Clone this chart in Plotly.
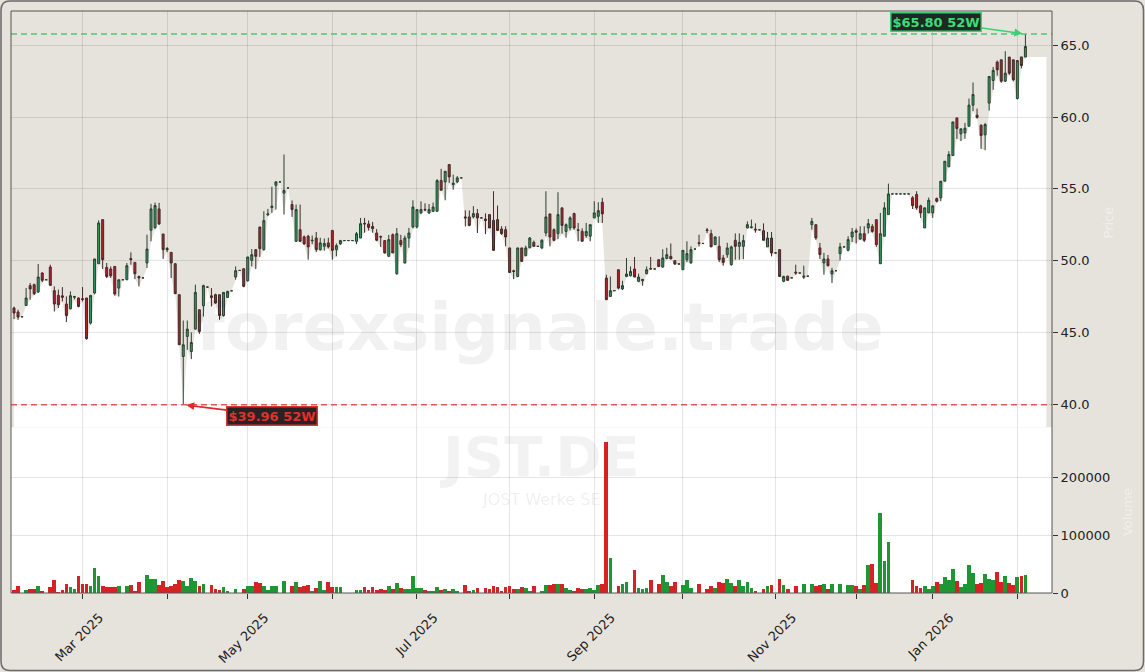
import pandas as pd
import plotly.graph_objects as go
from plotly.subplots import make_subplots

TICKER = "JST.DE"
COMPANY = "JOST Werke SE"
WATERMARK = "forexsignale.trade"
PRICE_LABEL = "Price"
VOLUME_LABEL = "Volume"
START = "2025-02-06"
END = "2026-02-04"
HOLIDAYS = ["2025-04-18", "2025-04-21", "2025-05-01", "2025-12-24", "2025-12-25",
            "2025-12-26", "2025-12-31", "2026-01-01"]

OPEN = [
    46.70, 46.42, 46.09, 46.88, 48.26, 48.33, 47.82, 49.14, 48.67, 49.56,
    47.91, 47.58, 47.55, 46.98, 46.65, 47.45, 47.40, 47.35, 47.40, 45.65,
    47.75, 49.79, 52.86, 49.53, 49.42, 49.60, 48.09, 48.67, 48.67, 50.15,
    49.88, 48.90, 48.80, 49.84, 52.12, 52.30, 53.61, 51.86, 50.85, 50.58,
    49.79, 47.63, 43.32, 44.72, 43.67, 45.23, 46.58, 46.86, 48.16, 47.55,
    47.63, 47.63, 46.18, 47.44, 47.90, 48.86, 49.32, 49.44, 48.60, 50.02,
    50.77, 52.35, 50.77, 53.20, 53.70, 55.25, 55.49, 54.70, 55.07, 53.91,
    51.35, 52.16, 51.66, 51.70, 51.38, 51.58, 50.77, 51.00, 51.24, 52.11,
    50.77, 51.17, 51.40, 51.40, 51.40, 51.35, 51.58, 52.60, 52.56, 52.39,
    51.93, 51.68, 51.40, 50.30, 51.81, 49.09, 51.40, 49.84, 51.58, 52.35,
    52.35, 53.33, 53.58, 53.33, 53.44, 53.44, 55.58, 55.49, 56.70, 55.30,
    55.49, 55.77, 53.05, 53.05, 53.05, 53.28, 52.98, 52.90, 53.21, 52.81,
    52.86, 52.21, 52.16, 50.89, 49.30, 48.90, 50.89, 50.35, 50.89, 51.28,
    51.00, 50.89, 51.93, 53.26, 52.16, 51.88, 53.68, 52.04, 52.28, 53.28,
    52.15, 52.04, 51.74, 51.70, 52.98, 53.09, 54.07, 48.79, 47.51, 47.91,
    49.37, 48.03, 48.90, 48.95, 49.42, 48.56, 48.60, 49.09, 49.45, 49.42,
    50.07, 49.56, 50.16, 50.30, 50.00, 49.77, 49.37, 50.07, 49.84, 50.81,
    51.25, 51.20, 52.15, 51.88, 51.12, 51.00, 50.19, 50.42, 49.72, 51.42,
    51.00, 51.00, 52.28, 52.30, 52.20, 52.15, 52.09, 50.96, 51.58, 50.54,
    50.77, 48.56, 48.92, 48.80, 49.20, 49.14, 48.85, 48.92, 52.51, 52.51,
    50.89, 49.84, 50.12, 49.07, 49.30, 50.49, 50.96, 50.72, 51.65, 52.09,
    51.51, 51.88, 52.28, 52.39, 52.86, 49.79, 51.70, 53.21, 54.65, 54.65,
    54.65, 54.65, 54.65, 54.38, 54.61, 53.82, 52.28, 53.33, 53.33, 54.33,
    54.38, 55.54, 56.54, 57.33, 59.95, 58.84, 58.91, 59.37, 60.84, 60.14,
    59.44, 58.77, 60.98, 62.56, 63.84, 64.00, 62.51, 64.19, 64.00, 61.30,
    64.20, 64.19,
]
HIGH = [
    46.80, 46.58, 46.09, 48.10, 48.44, 48.40, 49.77, 49.20, 48.67, 49.72,
    48.21, 47.98, 48.16, 47.51, 47.86, 47.55, 47.45, 48.16, 47.40, 47.58,
    50.12, 52.81, 52.86, 49.84, 49.60, 49.60, 48.67, 48.67, 49.84, 50.58,
    49.88, 48.95, 48.80, 51.81, 53.96, 54.05, 54.03, 51.86, 50.95, 50.58,
    49.79, 47.63, 45.83, 45.83, 45.00, 48.33, 46.58, 48.33, 48.16, 48.09,
    47.70, 47.63, 47.79, 47.90, 47.90, 49.60, 49.32, 49.44, 50.26, 50.81,
    50.77, 52.35, 53.44, 53.61, 55.15, 55.55, 55.49, 57.40, 55.07, 54.20,
    53.91, 53.91, 51.75, 51.80, 51.75, 52.00, 51.60, 51.55, 51.60, 52.11,
    51.20, 51.45, 51.40, 51.40, 51.40, 52.00, 52.98, 52.98, 52.80, 52.70,
    52.20, 51.75, 51.40, 51.80, 51.90, 52.28, 51.80, 51.75, 52.28, 54.21,
    53.56, 54.14, 54.00, 53.95, 54.05, 55.68, 56.40, 56.23, 56.70, 56.00,
    55.90, 55.77, 53.51, 53.50, 53.80, 53.60, 52.98, 53.30, 53.21, 54.84,
    53.84, 52.40, 52.40, 50.89, 49.37, 50.89, 50.89, 51.05, 51.65, 51.40,
    51.00, 51.50, 54.84, 53.26, 52.25, 54.77, 53.68, 52.60, 53.10, 53.35,
    52.63, 52.25, 52.63, 52.51, 54.14, 54.07, 54.38, 49.02, 48.90, 47.91,
    49.37, 48.60, 50.19, 49.60, 50.26, 49.10, 48.72, 49.60, 50.26, 49.42,
    50.07, 50.80, 50.90, 51.20, 50.00, 49.77, 50.72, 51.35, 51.00, 50.81,
    51.81, 51.20, 52.28, 52.16, 51.70, 51.70, 50.40, 51.25, 51.05, 51.90,
    51.90, 51.80, 52.74, 52.86, 52.60, 52.15, 52.60, 52.00, 52.00, 50.54,
    50.77, 48.95, 48.95, 48.80, 49.72, 49.14, 49.65, 48.92, 52.98, 52.51,
    51.24, 50.55, 50.40, 49.50, 49.30, 51.24, 50.96, 51.70, 52.28, 52.25,
    52.40, 52.40, 52.91, 52.55, 52.86, 53.33, 54.07, 55.37, 54.65, 54.65,
    54.65, 54.65, 54.65, 54.50, 54.84, 53.90, 53.70, 54.40, 53.85, 54.40,
    55.54, 56.93, 57.63, 59.67, 59.95, 59.19, 59.60, 61.30, 62.42, 60.60,
    59.50, 59.60, 62.84, 63.50, 63.95, 64.00, 64.60, 64.19, 64.00, 63.95,
    64.20, 65.80,
]
LOW = [
    45.93, 45.88, 46.09, 46.85, 47.28, 47.60, 47.75, 48.50, 48.67, 48.28,
    46.46, 46.70, 47.16, 45.72, 46.60, 47.30, 46.75, 47.16, 44.50, 45.55,
    47.65, 49.79, 49.42, 48.79, 48.80, 47.56, 47.50, 48.67, 48.67, 49.72,
    48.72, 48.21, 48.80, 49.49, 51.35, 52.20, 52.50, 50.12, 50.60, 48.79,
    47.70, 44.14, 39.96, 43.79, 43.14, 45.20, 44.90, 46.11, 48.16, 46.81,
    47.00, 45.88, 46.10, 47.40, 47.90, 48.67, 49.32, 48.15, 48.55, 49.60,
    49.42, 50.26, 50.70, 53.10, 53.33, 53.56, 55.49, 53.21, 55.07, 53.05,
    51.30, 51.30, 51.10, 50.07, 51.15, 50.60, 50.70, 50.70, 50.85, 50.07,
    50.30, 51.10, 51.40, 51.40, 51.40, 51.15, 51.58, 51.95, 52.10, 51.95,
    51.35, 50.96, 50.50, 50.30, 50.54, 49.02, 50.95, 49.80, 50.90, 52.25,
    52.25, 53.25, 53.45, 53.25, 53.40, 53.44, 54.91, 54.21, 55.42, 54.95,
    55.40, 55.77, 52.39, 52.40, 52.95, 51.93, 52.98, 51.85, 52.28, 50.72,
    52.11, 51.80, 51.00, 49.18, 48.72, 48.85, 49.95, 50.30, 50.89, 50.95,
    51.00, 50.80, 51.70, 51.00, 51.35, 51.50, 51.88, 51.60, 52.10, 52.15,
    51.35, 51.35, 51.60, 51.35, 52.98, 52.63, 52.63, 47.28, 47.50, 47.91,
    48.00, 47.95, 48.85, 48.90, 48.86, 48.50, 48.25, 49.05, 49.40, 49.42,
    49.55, 49.50, 50.10, 50.10, 49.70, 49.77, 49.37, 49.90, 49.80, 50.81,
    51.00, 51.20, 51.93, 50.96, 51.10, 49.90, 49.65, 50.20, 49.65, 50.07,
    50.07, 50.10, 52.25, 52.25, 51.95, 52.15, 51.42, 50.96, 50.30, 50.54,
    48.90, 48.50, 48.60, 48.80, 49.02, 49.14, 48.72, 48.92, 52.16, 51.45,
    50.12, 49.02, 49.60, 48.44, 49.30, 50.02, 50.96, 50.65, 51.30, 51.20,
    51.45, 51.30, 51.90, 51.95, 50.96, 49.79, 51.70, 53.21, 54.65, 54.65,
    54.65, 54.65, 54.65, 53.60, 53.55, 52.98, 52.28, 53.33, 52.98, 54.05,
    54.15, 55.54, 56.54, 57.33, 58.49, 58.33, 58.50, 59.37, 60.42, 59.90,
    57.79, 57.70, 60.45, 61.90, 62.90, 62.40, 62.45, 62.95, 62.50, 61.23,
    63.40, 64.19,
]
CLOSE = [
    46.35, 46.07, 46.09, 47.40, 48.03, 47.70, 48.86, 48.63, 48.67, 48.28,
    46.98, 46.93, 47.45, 46.18, 47.56, 47.50, 46.81, 47.30, 44.56, 47.58,
    50.12, 52.63, 50.07, 48.90, 48.95, 47.68, 48.67, 48.67, 49.65, 50.08,
    49.09, 48.80, 48.80, 50.81, 53.61, 53.84, 52.56, 50.77, 50.77, 49.84,
    47.70, 44.14, 44.14, 45.23, 44.30, 47.79, 45.07, 48.26, 48.16, 47.44,
    47.05, 46.18, 47.79, 47.86, 47.90, 49.30, 49.32, 48.21, 50.26, 50.42,
    50.30, 50.84, 52.79, 53.26, 53.80, 55.49, 55.49, 54.90, 55.07, 53.56,
    53.56, 51.35, 51.17, 50.96, 51.42, 50.77, 51.24, 51.20, 50.96, 50.72,
    51.05, 51.40, 51.40, 51.40, 51.40, 51.88, 52.58, 52.56, 52.32, 52.23,
    51.42, 51.65, 50.54, 51.47, 50.54, 51.88, 51.12, 51.58, 51.93, 53.74,
    53.56, 53.56, 53.54, 53.56, 53.74, 55.58, 54.91, 56.23, 55.84, 55.40,
    55.77, 55.77, 52.98, 52.46, 53.28, 52.98, 52.98, 52.80, 52.28, 50.72,
    52.11, 51.88, 51.65, 49.18, 49.25, 50.89, 49.95, 50.89, 51.58, 51.00,
    51.00, 51.42, 53.05, 51.65, 51.42, 53.21, 52.46, 52.51, 52.98, 52.28,
    52.11, 51.35, 52.04, 52.51, 53.33, 53.49, 53.26, 47.28, 47.91, 47.91,
    48.09, 48.26, 49.07, 49.25, 48.86, 48.86, 48.70, 49.37, 49.42, 49.42,
    49.60, 50.19, 50.42, 50.12, 49.77, 49.77, 50.72, 50.49, 50.77, 50.81,
    51.20, 51.20, 52.10, 50.96, 51.65, 50.07, 49.88, 50.89, 50.96, 51.00,
    51.28, 51.40, 52.51, 52.35, 52.15, 52.15, 51.42, 51.58, 50.54, 50.54,
    48.90, 48.90, 48.63, 48.80, 49.14, 49.14, 48.92, 48.92, 52.74, 51.58,
    50.42, 50.12, 49.65, 49.30, 49.30, 50.96, 50.96, 51.47, 52.00, 51.98,
    51.88, 51.42, 52.58, 52.04, 51.12, 51.88, 53.68, 54.65, 54.65, 54.65,
    54.65, 54.65, 54.65, 53.84, 53.68, 53.33, 53.68, 54.21, 53.82, 54.14,
    55.54, 56.93, 57.40, 59.67, 59.21, 59.19, 59.23, 60.84, 61.58, 59.98,
    58.72, 59.49, 62.84, 63.26, 63.30, 62.51, 63.07, 63.07, 62.60, 63.95,
    63.60, 64.93,
]
VOLUME = [
    5800, 12760, 0, 5800, 7540, 7540, 12760, 4060, 0, 9860,
    23200, 1500, 5800, 16240, 10440, 7540, 29000, 16240, 16240, 12760,
    42340, 29000, 12760, 9860, 11020, 9860, 12760, 0, 11600, 14500,
    2900, 19720, 0, 31900, 24360, 24940, 14500, 21460, 9860, 11600,
    16240, 23200, 21460, 12760, 26680, 20300, 11600, 16240, 0, 14500,
    6960, 5800, 10440, 4060, 0, 6960, 0, 6960, 12760, 12760,
    18560, 16820, 12760, 5800, 12760, 12760, 0, 21460, 0, 11600,
    18560, 9860, 11600, 14500, 4060, 8700, 21460, 5800, 18560, 10440,
    10440, 10440, 0, 0, 0, 5800, 5800, 9860, 5800, 9860,
    5800, 7540, 5800, 12760, 7540, 17400, 8700, 6960, 6960, 30160,
    8700, 8700, 5800, 4060, 4060, 11020, 5800, 7540, 4060, 7540,
    4060, 0, 14500, 2900, 5800, 8700, 0, 8700, 7540, 12760,
    11020, 4060, 11020, 12760, 7540, 7540, 10440, 8700, 4060, 12760,
    0, 4060, 14500, 14500, 16240, 16240, 16240, 8700, 5800, 4060,
    8700, 7540, 7540, 8700, 5800, 14500, 16240, 262000, 60900, 0,
    12760, 16240, 18560, 0, 38860, 8700, 7540, 8700, 23200, 0,
    16240, 31900, 18560, 11600, 18560, 0, 14500, 23200, 8700, 0,
    16240, 0, 6960, 12760, 8700, 19720, 17400, 24360, 17400, 12760,
    23200, 12760, 18560, 8700, 4060, 0, 7540, 11600, 14500, 0,
    24360, 14500, 7540, 0, 11600, 0, 16240, 0, 16240, 11600,
    14500, 16240, 7540, 16240, 0, 16240, 0, 14500, 13340, 11600,
    7540, 13340, 47560, 49300, 17400, 138040, 55100, 88160, 0, 0,
    0, 0, 0, 23200, 12760, 9280, 11600, 7540, 12760, 19140,
    16240, 27840, 23200, 40600, 21460, 9860, 16240, 47560, 34800, 15660,
    17400, 33060, 24940, 23200, 36540, 19720, 30160, 17400, 13340, 27260,
    30160, 31900,
]
MONTH_TICK_LABELS = ["Mar 2025", "", "May 2025", "", "Jul 2025", "", "Sep 2025", "",
                     "Nov 2025", "", "Jan 2026", ""]
PRICE_TICKS = [40, 45, 50, 55, 60, 65]
VOLUME_TICKS = [0, 100000, 200000]

# ---- styling ----
BG = "#e6e3dd"
GRID = "rgba(0,0,0,0.10)"
FONT = "DejaVu Sans"
W, H = 1145, 672
ML, MR, MT, MB = 11, 93, 11, 79
PRICE_RANGE = [38.4, 67.4]
VOL_RANGE = [0, 288000]
X_RANGE = [-0.75, 257.6]
FILL_TAIL = 5.2  # trailing extension of the low-band beyond the last session

# trading calendar -> integer index positions
dates = [d for d in pd.bdate_range(START, END) if d.strftime("%Y-%m-%d") not in HOLIDAYS]
idx = list(range(len(dates)))
month_ticks = []
for i in range(1, len(dates)):
    if dates[i].month != dates[i - 1].month:
        month_ticks.append(i)
month_ticks = month_ticks[:len(MONTH_TICK_LABELS)]

fig = make_subplots(rows=2, cols=1, shared_xaxes=True, vertical_spacing=0,
                    row_heights=[0.715, 0.285])

fig.add_trace(go.Candlestick(
    x=idx, open=OPEN, high=HIGH, low=LOW, close=CLOSE,
    increasing=dict(fillcolor="#2f9e5f", line=dict(color="#2a3f32", width=1)),
    decreasing=dict(fillcolor="#b52226", line=dict(color="#402a2a", width=1)),
    whiskerwidth=0, hoverinfo="skip", showlegend=False), row=1, col=1)

vcolors = ["#1e9632" if c >= o else "#d62222" for o, c in zip(OPEN, CLOSE)]
fig.add_trace(go.Bar(x=idx, y=VOLUME, marker=dict(color=vcolors, line=dict(width=0)),
                     width=0.92, showlegend=False, hoverinfo="skip"), row=2, col=1)

# white band under the lows (price panel)
px = idx + [idx[-1] + FILL_TAIL]
py = LOW + [LOW[-1]]
path = f"M {px[0]},{PRICE_RANGE[0]} " + " ".join(f"L {x},{y}" for x, y in zip(px, py)) + \
       f" L {px[-1]},{PRICE_RANGE[0]} Z"
shapes = [
    dict(type="path", path=path, xref="x", yref="y", fillcolor="white",
         line=dict(width=0), layer="below"),
    dict(type="rect", xref="x2 domain", yref="y2 domain", x0=0, x1=1, y0=0, y1=1,
         fillcolor="white", line=dict(width=0), layer="below"),
]
hi_val, lo_val = max(HIGH), min(LOW)
hi_i, lo_i = HIGH.index(hi_val), LOW.index(lo_val)
shapes.append(dict(type="line", xref="x domain", yref="y", x0=0, x1=1, y0=hi_val, y1=hi_val,
                   line=dict(color="#4cc97a", width=1.6, dash="6px,4px")))
shapes.append(dict(type="line", xref="x domain", yref="y", x0=0, x1=1, y0=lo_val, y1=lo_val,
                   line=dict(color="#dc5a5a", width=1.6, dash="6px,4px")))
# plot frame
shapes.append(dict(type="rect", xref="paper", yref="paper", x0=0, x1=1, y0=0, y1=1,
                   line=dict(color="#555555", width=1), layer="above"))
# outer rounded border
pw, ph = W - ML - MR, H - MT - MB
x0, x1 = -(ML - 1) / pw, (W - ML - 1.5) / pw
y0, y1 = -(MB - 1.5) / ph, 1 + (MT - 1) / ph
rx, ry = 9 / pw, 9 / ph
border = (f"M {x0+rx},{y1} L {x1-rx},{y1} Q {x1},{y1} {x1},{y1-ry} L {x1},{y0+ry} "
          f"Q {x1},{y0} {x1-rx},{y0} L {x0+rx},{y0} Q {x0},{y0} {x0},{y0+ry} "
          f"L {x0},{y1-ry} Q {x0},{y1} {x0+rx},{y1} Z")
shapes.append(dict(type="path", path=border, xref="paper", yref="paper",
                   line=dict(color="#6a6a6a", width=1.5)))

annotations = [
    dict(text=WATERMARK, xref="paper", yref="paper", x=0.508, y=0.457, showarrow=False,
         xanchor="center", yanchor="middle",
         font=dict(family=FONT, size=66, color="rgba(0,0,0,0.055)", weight="bold")),
    dict(text=TICKER, xref="paper", yref="paper", x=0.508, y=0.234, showarrow=False,
         xanchor="center", yanchor="middle",
         font=dict(family=FONT, size=56, color="rgba(0,0,0,0.05)", weight="bold")),
    dict(text=COMPANY, xref="paper", yref="paper", x=0.510, y=0.160, showarrow=False,
         xanchor="center", yanchor="middle",
         font=dict(family=FONT, size=16, color="rgba(0,0,0,0.08)")),
    dict(text=PRICE_LABEL, xref="paper", yref="paper", x=1.054, y=0.637, showarrow=False,
         xanchor="center", yanchor="middle", textangle=-90,
         font=dict(family=FONT, size=13, color="rgba(255,255,255,0.45)")),
    dict(text=VOLUME_LABEL, xref="paper", yref="paper", x=1.072, y=0.139, showarrow=False,
         xanchor="center", yanchor="middle", textangle=-90,
         font=dict(family=FONT, size=13, color="rgba(255,255,255,0.45)")),
    dict(text=f"${hi_val:.2f} 52W", x=hi_i, y=hi_val, xref="x", yref="y",
         ax=-89, ay=-12, showarrow=True, arrowhead=2, arrowsize=1, arrowwidth=1.6,
         arrowcolor="#3ccf72", standoff=3,
         font=dict(family=FONT, size=13, color="#3ddc7a", weight="bold"),
         bgcolor="#1d2a22", bordercolor="#3ccf72", borderwidth=1.5, borderpad=1),
    dict(text=f"${lo_val:.2f} 52W", x=lo_i, y=lo_val, xref="x", yref="y",
         ax=89, ay=11, showarrow=True, arrowhead=2, arrowsize=1, arrowwidth=1.6,
         arrowcolor="#e02a2a", standoff=3,
         font=dict(family=FONT, size=13, color="#e03030", weight="bold"),
         bgcolor="#2a2222", bordercolor="#e03030", borderwidth=1.5, borderpad=1),
]

fig.update_layout(
    width=W, height=H, paper_bgcolor=BG, plot_bgcolor=BG,
    margin=dict(l=ML, r=MR, t=MT, b=MB, autoexpand=False),
    font=dict(family=FONT, size=13, color="#222222"),
    shapes=shapes, annotations=annotations, showlegend=False, bargap=0,
)
common_x = dict(range=X_RANGE, tickmode="array", tickvals=month_ticks, showgrid=True,
                gridcolor=GRID, gridwidth=1, zeroline=False, showline=False, automargin=False)
fig.update_xaxes(**common_x, showticklabels=False, ticks="", rangeslider=dict(visible=False),
                 row=1, col=1)
fig.update_xaxes(**common_x, ticktext=MONTH_TICK_LABELS, ticks="outside", ticklen=5,
                 tickcolor="#333333", tickangle=-45, ticklabelshift=17, ticklabelstandoff=6,
                 tickfont=dict(size=13, color="#222222"), row=2, col=1)
fig.update_yaxes(side="right", range=PRICE_RANGE, tickmode="array", tickvals=PRICE_TICKS,
                 tickformat=".1f", ticks="outside", ticklen=5, tickcolor="#333333",
                 showgrid=True, gridcolor=GRID, zeroline=False, showline=False, automargin=False,
                 tickfont=dict(size=13, color="#222222"), row=1, col=1)
fig.update_yaxes(side="right", range=VOL_RANGE, tickmode="array", tickvals=VOLUME_TICKS,
                 ticktext=[str(v) for v in VOLUME_TICKS], ticks="outside", ticklen=5,
                 tickcolor="#333333", showgrid=True, gridcolor=GRID, zeroline=False,
                 showline=False, automargin=False, tickfont=dict(size=13, color="#222222"),
                 row=2, col=1)

fig.write_html("out.html", config={"displayModeBar": False},
               post_script="document.body.style.margin='0';document.body.style.overflow='hidden';")
